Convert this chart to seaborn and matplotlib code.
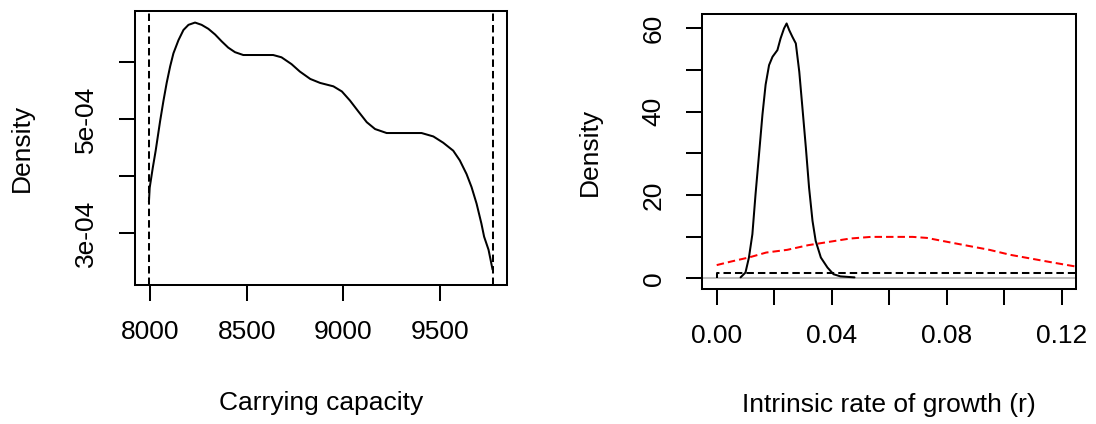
import numpy as np
import pandas as pd
import matplotlib
matplotlib.use("Agg")
import matplotlib.pyplot as plt
import seaborn as sns

# ---------------- data ----------------
# Left panel: posterior density of carrying capacity
k_x = [7992, 7996, 8012, 8027, 8050, 8067, 8084, 8102, 8119, 8145, 8171, 8197,
       8231, 8265, 8300, 8335, 8369, 8403, 8438, 8481, 8576, 8636, 8679, 8731,
       8774, 8828, 8879, 8948, 8992, 9034, 9077, 9121, 9164, 9224, 9293, 9405,
       9466, 9517, 9569, 9603, 9638, 9664, 9690, 9715, 9729, 9752, 9773]
k_y = [3.55e-4, 3.80e-4, 4.15e-4, 4.45e-4, 4.97e-4, 5.32e-4, 5.64e-4, 5.93e-4,
       6.16e-4, 6.39e-4, 6.57e-4, 6.66e-4, 6.70e-4, 6.66e-4, 6.59e-4, 6.49e-4,
       6.37e-4, 6.26e-4, 6.18e-4, 6.13e-4, 6.13e-4, 6.13e-4, 6.09e-4, 5.97e-4,
       5.84e-4, 5.71e-4, 5.64e-4, 5.58e-4, 5.49e-4, 5.33e-4, 5.14e-4, 4.95e-4,
       4.83e-4, 4.76e-4, 4.76e-4, 4.76e-4, 4.70e-4, 4.59e-4, 4.45e-4, 4.28e-4,
       4.04e-4, 3.81e-4, 3.52e-4, 3.17e-4, 2.94e-4, 2.71e-4, 2.36e-4]
k_bounds = [7991, 9773]

# Right panel: posterior density of r
r_x = [0.0083, 0.0100, 0.0112, 0.0124, 0.0135, 0.0147, 0.0159, 0.0170, 0.0182,
       0.0194, 0.0211, 0.0222, 0.0234, 0.0243, 0.0252, 0.0263, 0.0275, 0.0287,
       0.0298, 0.0310, 0.0321, 0.0333, 0.0344, 0.0362, 0.0385, 0.0406, 0.0430,
       0.0479]
r_y = [0.24, 1.4, 5.0, 10.6, 20.2, 29.7, 39.3, 46.5, 51.2, 53.2, 54.8, 57.6,
       60.0, 61.2, 59.6, 58.0, 56.4, 49.6, 40.9, 31.3, 21.8, 13.8, 9.0, 5.0,
       2.6, 1.0, 0.48, 0.24]
# Red dashed prior curve
rp_x = [0.0, 0.0051, 0.0112, 0.0172, 0.0245, 0.0318, 0.0390, 0.0463, 0.0536,
        0.0608, 0.0681, 0.0730, 0.0802, 0.0875, 0.0948, 0.1020, 0.1090,
        0.1167, 0.1260]
rp_y = [3.19, 4.06, 5.02, 6.2, 6.85, 7.97, 8.76, 9.56, 9.96, 9.96, 9.96, 9.72,
        8.76, 7.8, 6.85, 5.66, 4.78, 3.82, 2.70]
# Black dashed uniform prior
ru_x = [0.0, 0.0, 0.8]
ru_y = [0.0, 1.3, 1.3]

k_yticks = [3e-4, 4e-4, 5e-4, 6e-4]
k_ylabels = ["3e-04", "", "5e-04", ""]
k_xticks = [8000, 8500, 9000, 9500]
r_xticks = [0.0, 0.02, 0.04, 0.06, 0.08, 0.10, 0.12]
r_xlabels = ["0.00", "", "0.04", "", "0.08", "", "0.12"]
r_yticks = [0, 10, 20, 30, 40, 50, 60]
r_ylabels = ["0", "", "20", "", "40", "", "60"]

# ---------------- style ----------------
sns.set_style("white")
plt.rcParams["font.family"] = ["Liberation Sans", "DejaVu Sans"]
plt.rcParams["text.color"] = "black"
plt.rcParams["axes.labelcolor"] = "black"
FS = 19

fig = plt.figure(figsize=(10.96, 4.24), dpi=100)
ax1 = fig.add_axes([0.1232, 0.3290, 0.3391, 0.6460])
ax2 = fig.add_axes([0.6408, 0.3184, 0.3410, 0.6479])

LW = 1.45
DASH = (3.7, 2.0)

# Left panel
sns.lineplot(x=k_x, y=k_y, ax=ax1, color="black", linewidth=LW,
             estimator=None, sort=False)
for b in k_bounds:
    ax1.axvline(b, color="black", linewidth=LW, linestyle=(0, DASH))
ax1.set_xlim(7920, 9846)
ax1.set_ylim(2.1e-4, 6.91e-4)
ax1.set_xticks(k_xticks)
ax1.set_xticklabels([str(v) for v in k_xticks])
ax1.set_yticks(k_yticks)
ax1.set_yticklabels(k_ylabels, rotation=90, va="center")
ax1.set_xlabel("Carrying capacity", fontsize=FS)
ax1.set_ylabel("Density", fontsize=FS)

# Right panel
ax2.axhline(0, color="#bebebe", linewidth=LW)
sns.lineplot(x=ru_x, y=ru_y, ax=ax2, color="black", linewidth=LW,
             estimator=None, sort=False, linestyle=(0, DASH))
sns.lineplot(x=rp_x, y=rp_y, ax=ax2, color="red", linewidth=LW,
             estimator=None, sort=False, linestyle=(0, DASH))
sns.lineplot(x=r_x, y=r_y, ax=ax2, color="black", linewidth=LW,
             estimator=None, sort=False)
ax2.set_xlim(-0.0050, 0.1249)
ax2.set_ylim(-2.55, 63.4)
ax2.set_xticks(r_xticks)
ax2.set_xticklabels(r_xlabels)
ax2.set_yticks(r_yticks)
ax2.set_yticklabels(r_ylabels, rotation=90, va="center")
ax2.set_xlabel("Intrinsic rate of growth (r)", fontsize=FS)
ax2.set_ylabel("Density", fontsize=FS)

for ax, xl, yl in [(ax1, -0.433, -0.305), (ax2, -0.422, -0.300)]:
    for s in ax.spines.values():
        s.set_visible(True)
        s.set_color("black")
        s.set_linewidth(LW)
    ax.tick_params(direction="out", length=11.5, width=LW,
                   labelsize=FS, colors="black", bottom=True, left=True)
    ax.tick_params(axis="x", pad=14)
    ax.tick_params(axis="y", pad=15)
    ax.xaxis.label.set_va("center")
    ax.yaxis.label.set_va("center")
    ax.xaxis.set_label_coords(0.5, xl)
    ax.yaxis.set_label_coords(yl, 0.5)
    ax.grid(False)

fig.savefig("out.png", dpi=100)
